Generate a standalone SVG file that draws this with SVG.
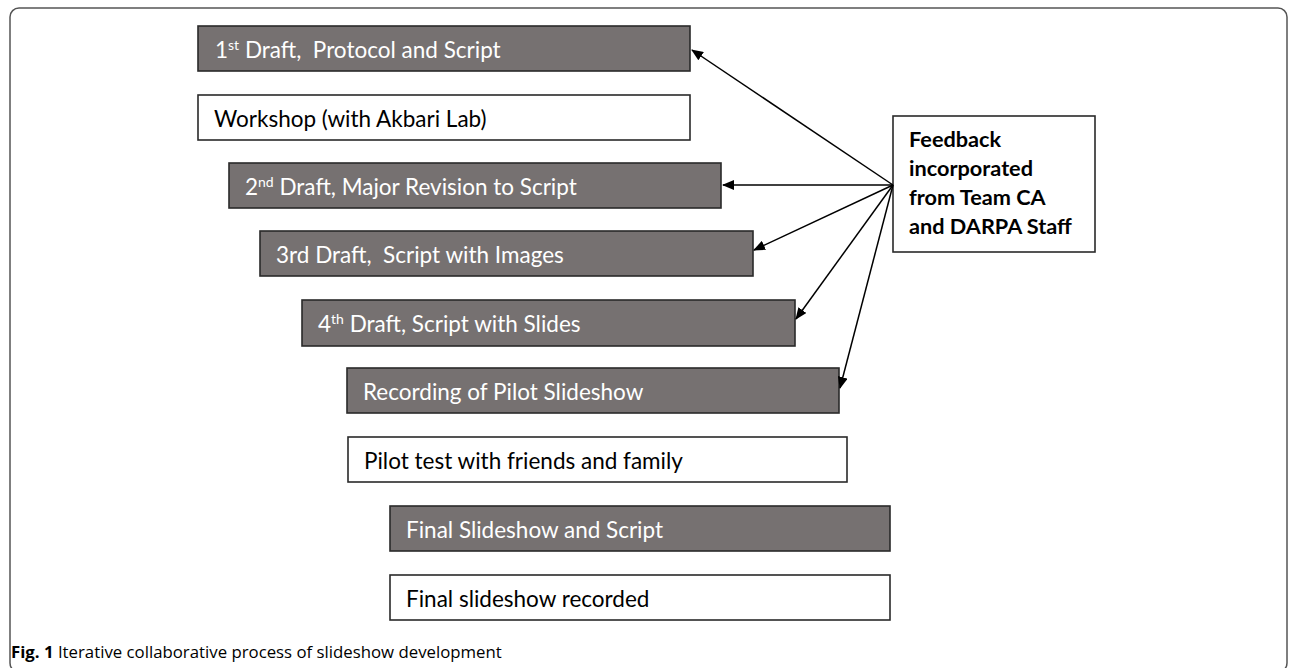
<svg xmlns="http://www.w3.org/2000/svg" width="1290" height="668" viewBox="0 0 1290 668">
<style>
.g{fill:#767171;stroke:#2a2a2a;stroke-width:1.6}
.w{fill:#fff;stroke:#2a2a2a;stroke-width:1.6}
.tl{font-family:Lato,"Open Sans",sans-serif;font-size:22.5px;fill:#fff;white-space:pre}
.td{font-family:Lato,"Open Sans",sans-serif;font-size:22.5px;fill:#000;white-space:pre}
.sup{font-size:14px}
.fb{font-family:Lato,"Open Sans",sans-serif;font-size:21.7px;font-weight:bold;fill:#000}
.cap{font-family:"Open Sans","Noto Sans",sans-serif;font-size:16.8px;fill:#000}
.c line{stroke:#000;stroke-width:1.5;marker-end:url(#ah)}
</style>
<defs>
<marker id="ah" markerWidth="12" markerHeight="10" refX="11" refY="5" orient="auto" markerUnits="userSpaceOnUse">
<path d="M0,0 L12,5 L0,10 Z" fill="#000"/>
</marker>
</defs>
<rect x="10" y="8" width="1277" height="664" rx="9" fill="#fff" stroke="#555" stroke-width="1.5"/>
<g id="n1"><rect class="g" x="198" y="26" width="492" height="45"/><text class="tl" x="215" y="57.5" xml:space="preserve">1<tspan class="sup" dy="-8">st</tspan><tspan dy="8"> Draft,  Protocol and Script</tspan></text></g>
<g id="n2"><rect class="w" x="198" y="95" width="492" height="45"/><text class="td" x="214" y="126.5">Workshop (with Akbari Lab)</text></g>
<g id="n3"><rect class="g" x="229" y="163" width="492" height="45"/><text class="tl" x="245" y="194.5" xml:space="preserve">2<tspan class="sup" dy="-8">nd</tspan><tspan dy="8"> Draft, Major Revision to Script</tspan></text></g>
<g id="n4"><rect class="g" x="260" y="231" width="493" height="45"/><text class="tl" x="276" y="262.5" xml:space="preserve">3rd Draft,  Script with Images</text></g>
<g id="n5"><rect class="g" x="302" y="300" width="493" height="46"/><text class="tl" x="318" y="331.5" xml:space="preserve">4<tspan class="sup" dy="-8">th</tspan><tspan dy="8"> Draft, Script with Slides</tspan></text></g>
<g id="n6"><rect class="g" x="347" y="368" width="492" height="45"/><text class="tl" x="363" y="399.5">Recording of Pilot Slideshow</text></g>
<g id="n7"><rect class="w" x="348" y="437" width="499" height="45"/><text class="td" x="364" y="468.5">Pilot test with friends and family</text></g>
<g id="n8"><rect class="g" x="390" y="506" width="500" height="45"/><text class="tl" x="406" y="537.5">Final Slideshow and Script</text></g>
<g id="n9"><rect class="w" x="390" y="575" width="500" height="45"/><text class="td" x="406" y="606.5">Final slideshow recorded</text></g>
<g id="fb"><rect class="w" x="893" y="116" width="202" height="136"/>
<text class="fb" x="909" y="147">Feedback</text>
<text class="fb" x="909" y="176">incorporated</text>
<text class="fb" x="909" y="205">from Team CA</text>
<text class="fb" x="909" y="234">and DARPA Staff</text></g>
<g class="c">
<line x1="893" y1="185" x2="692" y2="50"/>
<line x1="893" y1="185" x2="723" y2="185"/>
<line x1="893" y1="185" x2="754" y2="250"/>
<line x1="893" y1="185" x2="796" y2="319"/>
<line x1="893" y1="185" x2="840" y2="388"/>
</g>
<text class="cap" x="11" y="658"><tspan font-weight="bold">Fig. 1</tspan> Iterative collaborative process of slideshow development</text>
</svg>
